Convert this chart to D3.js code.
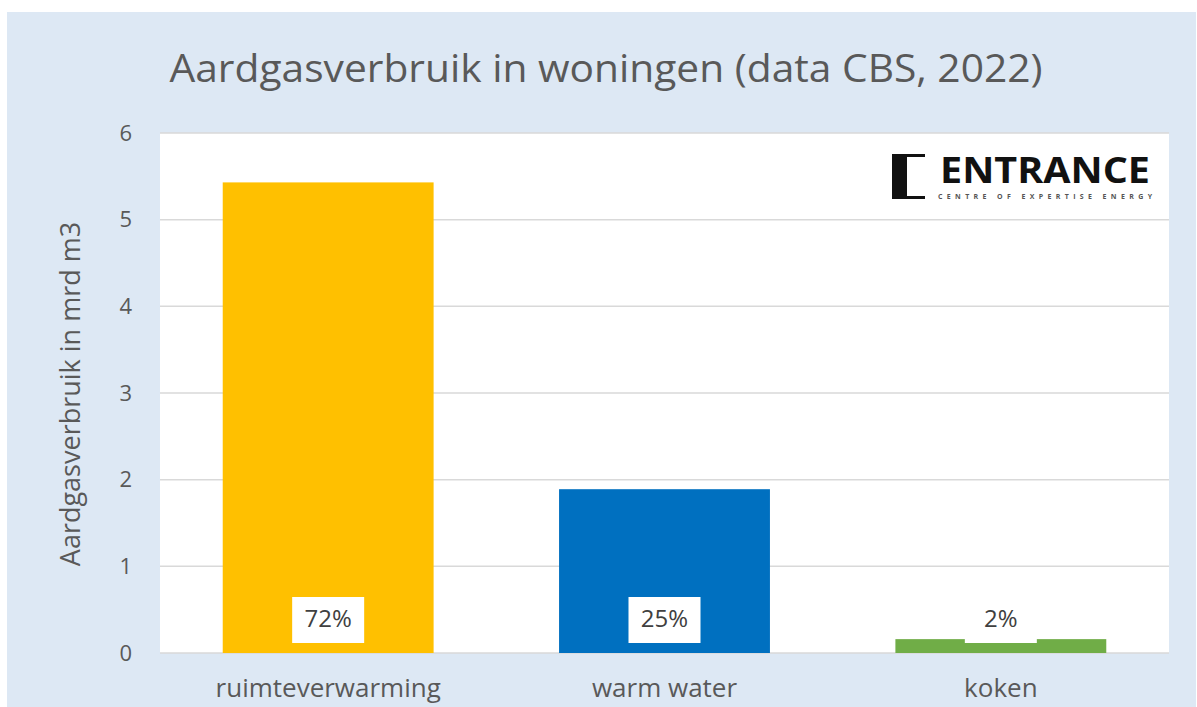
<!DOCTYPE html>
<html>
<head>
<meta charset="utf-8">
<script src="https://cdn.jsdelivr.net/npm/d3@7"></script>
<style>
  body { margin: 0; background: #fff; }
  text { font-family: "Open Sans", "Noto Sans", sans-serif; }
</style>
</head>
<body>
<div id="chart"></div>
<script>
const categories = ["ruimteverwarming", "warm water", "koken"];
const values = [5.43, 1.89, 0.16];
const shares = ["72%", "25%", "2%"];
const colors = ["#ffc000", "#0070c0", "#70ad47"];
const yTicks = [0, 1, 2, 3, 4, 5, 6];

const width = 1197, height = 707,
    margin = ({ top: 133, right: 28, bottom: 54, left: 160 });

const svg = d3.select("#chart")
    .append("svg")
    .attr("width", width)
    .attr("height", height);

// chart background
svg.append("rect")
    .attr("x", 7).attr("y", 12)
    .attr("width", 1189).attr("height", height - 12)
    .attr("fill", "#dde8f4");

// plot area
svg.append("rect")
    .attr("x", margin.left).attr("y", margin.top)
    .attr("width", width - margin.left - margin.right)
    .attr("height", height - margin.top - margin.bottom)
    .attr("fill", "#fff");

let x = d3.scaleBand()
    .domain(categories)
    .range([margin.left, width - margin.right])
    .paddingInner(0.373)
    .paddingOuter(0.1865);

let y = d3.scaleLinear()
    .domain([0, 6])
    .range([height - margin.bottom, margin.top]);

// gridlines
svg.append("g")
    .selectAll("line")
    .data(yTicks)
    .join("line")
    .attr("x1", margin.left)
    .attr("x2", width - margin.right)
    .attr("y1", d => y(d))
    .attr("y2", d => y(d))
    .attr("stroke", "#d9d9d9")
    .attr("stroke-width", 1.5);

// y-axis labels
svg.append("g")
    .attr("transform", `translate(${margin.left},0)`)
    .call(d3.axisLeft(y).tickValues(yTicks).tickFormat(d3.format("d")).tickSize(0).tickPadding(28))
    .call(g => g.select(".domain").remove())
    .call(g => g.selectAll("text")
        .attr("fill", "#595959")
        .attr("font-size", 22)
        .attr("font-family", "Open Sans, sans-serif"));

// x-axis labels
svg.append("g")
    .attr("transform", `translate(0,${height - margin.bottom})`)
    .call(d3.axisBottom(x).tickSize(0).tickPadding(26))
    .call(g => g.select(".domain").remove())
    .call(g => g.selectAll("text")
        .attr("fill", "#595959")
        .attr("font-size", 26)
        .attr("font-family", "Open Sans, sans-serif"));

// bars
svg.append("g")
    .selectAll("rect")
    .data(categories)
    .join("rect")
    .attr("x", d => x(d))
    .attr("y", (d, i) => y(values[i]))
    .attr("width", x.bandwidth())
    .attr("height", (d, i) => y(0) - y(values[i]))
    .attr("fill", (d, i) => colors[i]);

// percentage labels
let labels = svg.append("g")
    .selectAll("g")
    .data(categories)
    .join("g")
    .attr("transform", d => `translate(${x(d) + x.bandwidth() / 2},${y(0) - 33})`);

labels.append("rect")
    .attr("x", -36).attr("y", -23)
    .attr("width", 72).attr("height", 46)
    .attr("fill", "#fff");

labels.append("text")
    .text((d, i) => shares[i])
    .attr("text-anchor", "middle")
    .attr("dominant-baseline", "middle")
    .attr("y", 1)
    .attr("fill", "#404040")
    .attr("font-size", 24);

// title
svg.append("text")
    .attr("x", 606)
    .attr("y", 82)
    .attr("text-anchor", "middle")
    .attr("fill", "#595959")
    .attr("font-size", 39)
    .attr("textLength", 873)
    .attr("lengthAdjust", "spacingAndGlyphs")
    .text("Aardgasverbruik in woningen (data CBS, 2022)");

// y-axis title
svg.append("text")
    .attr("transform", "rotate(-90)")
    .attr("x", -394)
    .attr("y", 80)
    .attr("text-anchor", "middle")
    .attr("fill", "#595959")
    .attr("font-size", 27)
    .text("Aardgasverbruik in mrd m3");

// logo
let logo = svg.append("g");
logo.append("path")
    .attr("d", "M892,154 H925 V157 H907 V196 H925 V199 H892 Z")
    .attr("fill", "#111");
logo.append("text")
    .attr("x", 1045).attr("y", 183)
    .attr("text-anchor", "middle")
    .attr("font-family", "DejaVu Sans, sans-serif")
    .attr("font-weight", "bold")
    .attr("font-size", 36)
    .attr("textLength", 210)
    .attr("lengthAdjust", "spacingAndGlyphs")
    .attr("fill", "#111")
    .text("ENTRANCE");
logo.append("text")
    .attr("x", 1045).attr("y", 199)
    .attr("text-anchor", "middle")
    .attr("font-size", 7)
    .attr("font-weight", "bold")
    .attr("textLength", 214)
    .attr("fill", "#555")
    .text("CENTRE OF EXPERTISE ENERGY");
</script>
</body>
</html>
